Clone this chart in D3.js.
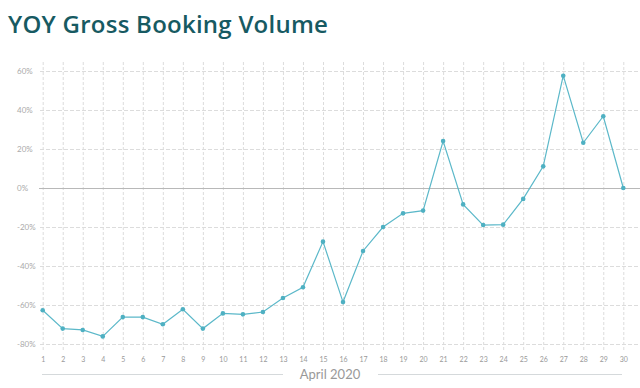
<!DOCTYPE html>
<html><head><meta charset="utf-8">
<script src="https://cdn.jsdelivr.net/npm/d3@7"></script>
<style>body{margin:0;background:#fff;}svg{display:block;}</style>
</head><body>
<script>
const days = d3.range(1, 31);
const yoy = [-62.7, -72.1, -72.8, -76.1, -66.2, -66.2, -69.9, -62.2, -72.1, -64.3,
             -64.8, -63.6, -56.4, -50.9, -27.5, -58.5, -32.3, -20.0, -13.0, -11.6,
             24.1, -8.4, -19.0, -18.8, -5.6, 11.1, 57.6, 23.2, 36.8, 0.0];
const yTicks = [60, 40, 20, 0, -20, -40, -60, -80];
const title = "YOY Gross Booking Volume";
const axisTitle = "April 2020";

const W = 640, H = 388;
const svg = d3.select("body").append("svg").attr("width", W).attr("height", H);

const x = d3.scaleLinear().domain([1, 30]).range([42.7, 623.3]);
const y = d3.scaleLinear().domain([-80, 60]).range([344, 71]);

svg.append("text").attr("x", 8).attr("y", 33).text(title)
  .attr("font-family", "'Open Sans', sans-serif").attr("font-weight", 600)
  .attr("font-size", 24).attr("letter-spacing", 0.25).attr("fill", "#175a62");

// vertical grid
const xAxis = d3.axisBottom(x).tickValues(days).tickSize(-(350 - 62)).tickPadding(7).tickFormat(d3.format("d"));
const gx = svg.append("g").attr("transform", "translate(0,350)").call(xAxis);
gx.select(".domain").remove();
gx.selectAll("line").attr("stroke", "#dcdcdc").attr("stroke-dasharray", "3,2");
gx.selectAll("text").attr("font-family", "Lato, sans-serif").attr("font-size", 7).attr("fill", "#999");

// horizontal grid
const yAxis = d3.axisLeft(y).tickValues(yTicks).tickSize(-(640 - 40)).tickPadding(0).tickFormat(d => d + "%");
const gy = svg.append("g").attr("transform", "translate(40,0)").call(yAxis);
gy.select(".domain").remove();
gy.selectAll("line").attr("stroke", d => d === 0 ? "#b8b8b8" : "#dcdcdc")
  .attr("stroke-dasharray", d => d === 0 ? null : "4,2")
  .attr("x1", d => d === 0 ? -1 : 0);
gy.selectAll("text").attr("text-anchor", "start").attr("x", -23).attr("dy", "0.32em")
  .attr("font-family", "Lato, sans-serif").attr("font-size", 8).attr("fill", "#aaa");

// line
const line = d3.line().x((d, i) => x(days[i])).y(d => y(d));
svg.append("path").datum(yoy).attr("d", line).attr("fill", "none")
  .attr("stroke", "#5bb8c9").attr("stroke-width", 1.2);
svg.selectAll("circle.pt").data(yoy).join("circle").attr("class", "pt")
  .attr("cx", (d, i) => x(days[i])).attr("cy", d => y(d)).attr("r", 2.3).attr("fill", "#4eb0c2");

// axis title
svg.append("text").attr("x", 330).attr("y", 379).attr("text-anchor", "middle").text(axisTitle)
  .attr("font-family", "Lato, sans-serif").attr("font-size", 13).attr("fill", "#999");
svg.append("line").attr("x1", 42).attr("x2", 283).attr("y1", 374.5).attr("y2", 374.5).attr("stroke", "#d5d9db");
svg.append("line").attr("x1", 378).attr("x2", 622).attr("y1", 374.5).attr("y2", 374.5).attr("stroke", "#d5d9db");
</script>
</body></html>
